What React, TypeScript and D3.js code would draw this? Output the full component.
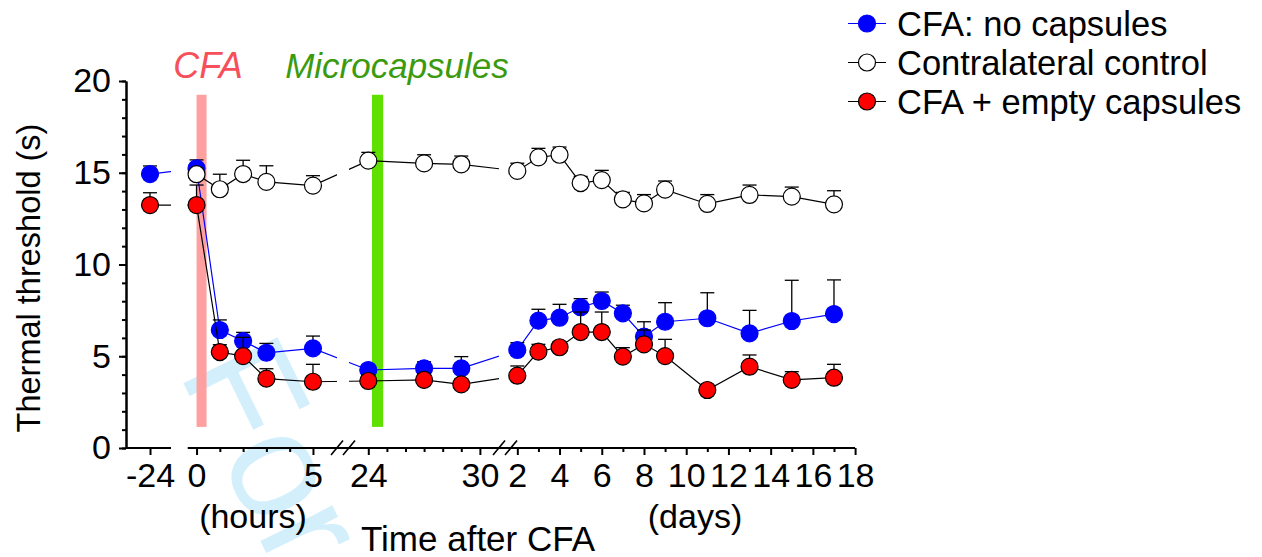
import { useEffect, useRef } from 'react';
import { select, scaleLinear, line, axisLeft, axisBottom, range } from 'd3';

// time points: hours after CFA, then days after CFA
const hours = [-24, 0, 1, 2, 3, 5, 24, 27, 29];
const days = [2, 3, 4, 5, 6, 7, 8, 9, 11, 13, 15, 17];

const noCapsMean = [14.93, 15.24, 6.43, 5.83, 5.19, 5.43, 4.25, 4.34, 4.34, 5.34, 6.94, 7.1, 7.67, 8.01, 7.34, 6.07, 6.88, 7.07, 6.25, 6.92, 7.3];
const noCapsSem = [0.44, 0.46, 0.55, 0.47, 0.51, 0.67, 0.22, 0.36, 0.64, 0.4, 0.62, 0.73, 0.47, 0.49, 0.44, 0.81, 1.04, 1.39, 1.25, 2.22, 1.86];

const controlMean = [null, 14.92, 14.1, 14.93, 14.5, 14.3, 15.66, 15.51, 15.46, 15.1, 15.84, 15.98, 14.44, 14.6, 13.55, 13.33, 14.08, 13.3, 13.79, 13.7, 13.28];
const controlSem = [null, 0.3, 0.82, 0.75, 0.88, 0.54, 0.45, 0.47, 0.45, 0.42, 0.49, 0.42, 0.36, 0.53, 0.38, 0.48, 0.47, 0.51, 0.54, 0.52, 0.74];

const emptyCapsMean = [13.24, 13.24, 5.23, 5.01, 3.78, 3.61, 3.65, 3.71, 3.47, 3.94, 5.25, 5.49, 6.32, 6.32, 4.98, 5.65, 5.01, 3.16, 4.43, 3.71, 3.83];
const emptyCapsSem = [0.67, 1.09, 0.4, 1.02, 0.54, 0.95, 0.3, 0.3, 0.3, 0.53, 0.4, 0.3, 1.09, 1.09, 0.49, 0.78, 0.91, 0.27, 0.64, 0.45, 0.73];

const legendLabels = ['CFA: no capsules', 'Contralateral control', 'CFA + empty capsules'];

const hourMajorTicks = [-24, 0, 5, 24, 30];
const hourMinorTicks = [1, 2, 3, 4, 25, 26, 27, 28, 29];
const dayMajorTicks = [2, 4, 6, 8, 10, 12, 14, 16, 18];
const dayMinorTicks = [3, 5, 7, 9, 11, 13, 15, 17];
const yMajorTicks = [0, 5, 10, 15, 20];

const cfaWindow = [0, 0.43];
const capsuleWindow = [24.2, 24.8];

const times = [...hours, ...days.map((d) => d * 24)];
const FONT = 'Liberation Sans, Arial, Helvetica, sans-serif';

// broken axis: -24 h | 0-6 h | 23-31 h | days
const x = scaleLinear()
  .domain([-25.03, -23.1, -0.38, 6.29, 22.64, 31.35, 34, 432])
  .range([126, 171, 187.7, 343, 343, 505, 505, 855.1]);
const y = scaleLinear().domain([0, 20]).range([448, 81]);

const series = [
  { key: 'noCaps', mean: noCapsMean, sem: noCapsSem, fill: '#0000ff', stroke: '#0000ff', line: '#0000ff' },
  { key: 'emptyCaps', mean: emptyCapsMean, sem: emptyCapsSem, fill: '#ff0000', stroke: '#000', line: '#000' },
  { key: 'control', mean: controlMean, sem: controlSem, fill: '#fff', stroke: '#000', line: '#000' },
];
// legend rows: no capsules, control, empty capsules
const legendOrder = [0, 2, 1];

const R = 8.5;

const App = () => {
  const yAxisRef = useRef(null);
  const xAxisRef = useRef(null);

  useEffect(() => {
    const yg = select(yAxisRef.current);
    yg.selectAll('*').remove();
    const major = yg.append('g').call(axisLeft(y).tickValues(yMajorTicks).tickSize(7).tickSizeOuter(0).tickPadding(8));
    yg.append('g').call(axisLeft(y).tickValues(range(0, 21)).tickSize(4).tickSizeOuter(0).tickFormat(() => ''));
    yg.selectAll('path, line').attr('stroke', '#000').attr('stroke-width', 2);
    major.attr('font-size', 34).attr('font-family', FONT);
    major.selectAll('text').attr('fill', '#000');

    const xg = select(xAxisRef.current);
    xg.selectAll('*').remove();
    const majorVals = [...hourMajorTicks, ...dayMajorTicks.map((d) => d * 24)];
    const minorVals = [...hourMinorTicks, ...dayMinorTicks.map((d) => d * 24)];
    const xMajor = xg
      .append('g')
      .call(axisBottom(x).tickValues(majorVals).tickSize(7).tickPadding(8).tickFormat((t) => String(t >= 48 ? t / 24 : t)));
    xg.append('g').call(axisBottom(x).tickValues(minorVals).tickSize(4).tickFormat(() => ''));
    xg.selectAll('.domain').remove();
    xg.selectAll('line').attr('stroke', '#000').attr('stroke-width', 2);
    xMajor.attr('font-size', 34).attr('font-family', FONT);
    xMajor.selectAll('text').attr('fill', '#000');
  }, []);

  const idx = range(times.length);
  const lineFor = (mean) =>
    line()
      .defined((i) => mean[i] != null)
      .x((i) => x(times[i]))
      .y((i) => y(mean[i]))(idx);

  const axisSegments = [
    [-25.03, -23.1],
    [-0.38, 432],
  ];
  const lineClips = [
    [0, x(-23.1)],
    [x(-0.38), x(6.29) - 6],
    [x(22.64) + 6, x(31.35) - 6],
    [x(34) + 5, 1262],
  ];
  const breaks = [x(6.29), x(31.35)];

  return (
    <svg width={1262} height={557} style={{ position: 'absolute', left: 0, top: 0, background: '#fff' }} fontFamily={FONT}>
      <defs>
        <clipPath id='line-clip'>
          {lineClips.map(([a, b], i) => (
            <rect key={i} x={a} y={0} width={b - a} height={557} />
          ))}
        </clipPath>
      </defs>

      <text transform='translate(178, 372) rotate(64)' fontSize={152} fill='#d3effc'>
        For Peer Review
      </text>

      <rect x={x(cfaWindow[0])} width={x(cfaWindow[1]) - x(cfaWindow[0])} y={y(19.25)} height={y(1.15) - y(19.25)} fill='#ffa0a0' />
      <rect
        x={x(capsuleWindow[0])}
        width={x(capsuleWindow[1]) - x(capsuleWindow[0])}
        y={y(19.25)}
        height={y(1.15) - y(19.25)}
        fill='#60e000'
      />

      <text x={208} y={78} fontSize={36} fontStyle='italic' fill='#f6505a' textAnchor='middle'>
        CFA
      </text>
      <text x={397} y={78} fontSize={35} fontStyle='italic' fill='#3c9a0e' textAnchor='middle'>
        Microcapsules
      </text>

      {series.map((s) => (
        <g key={s.key}>
          <path d={lineFor(s.mean)} fill='none' stroke={s.line} strokeWidth={1.2} clipPath='url(#line-clip)' />
          {idx
            .filter((i) => s.mean[i] != null)
            .map((i) => {
              const cx = x(times[i]);
              const top = y(s.mean[i] + s.sem[i]);
              return (
                <g key={i} stroke='#000' strokeWidth={1.3}>
                  <line x1={cx} x2={cx} y1={y(s.mean[i])} y2={top} />
                  <line x1={cx - 7} x2={cx + 7} y1={top} y2={top} />
                </g>
              );
            })}
          {idx
            .filter((i) => s.mean[i] != null)
            .map((i) => (
              <circle key={i} cx={x(times[i])} cy={y(s.mean[i])} r={R} fill={s.fill} stroke={s.stroke} strokeWidth={1.2} />
            ))}
        </g>
      ))}

      <g ref={yAxisRef} transform='translate(126,0)' />
      {axisSegments.map(([a, b], i) => (
        <line key={i} x1={x(a)} x2={x(b)} y1={448} y2={448} stroke='#000' strokeWidth={2} />
      ))}
      {breaks.map((bx, i) => (
        <g key={i} stroke='#000' strokeWidth={1.6}>
          <line x1={bx - 12} y1={455} x2={bx} y2={440.5} />
          <line x1={bx} y1={455} x2={bx + 12} y2={440.5} />
        </g>
      ))}
      <g ref={xAxisRef} transform='translate(0,448)' />

      <text x={253} y={528} fontSize={34} textAnchor='middle'>
        (hours)
      </text>
      <text x={695} y={528} fontSize={34} textAnchor='middle'>
        (days)
      </text>
      <text x={478} y={551} fontSize={35} textAnchor='middle'>
        Time after CFA
      </text>
      <text transform='translate(40,278) rotate(-90)' fontSize={32.5} textAnchor='middle'>
        Thermal threshold (s)
      </text>

      {legendOrder.map((si, row) => {
        const s = series[si];
        const cy = 23.5 + row * 39;
        return (
          <g key={s.key}>
            <line x1={848} x2={886} y1={cy} y2={cy} stroke={s.line} strokeWidth={1.2} />
            <circle cx={867} cy={cy} r={R} fill={s.fill} stroke={s.stroke} strokeWidth={1.2} />
            <text x={897} y={cy + 12} fontSize={34.5}>
              {legendLabels[row]}
            </text>
          </g>
        );
      })}
    </svg>
  );
};

export default App;
